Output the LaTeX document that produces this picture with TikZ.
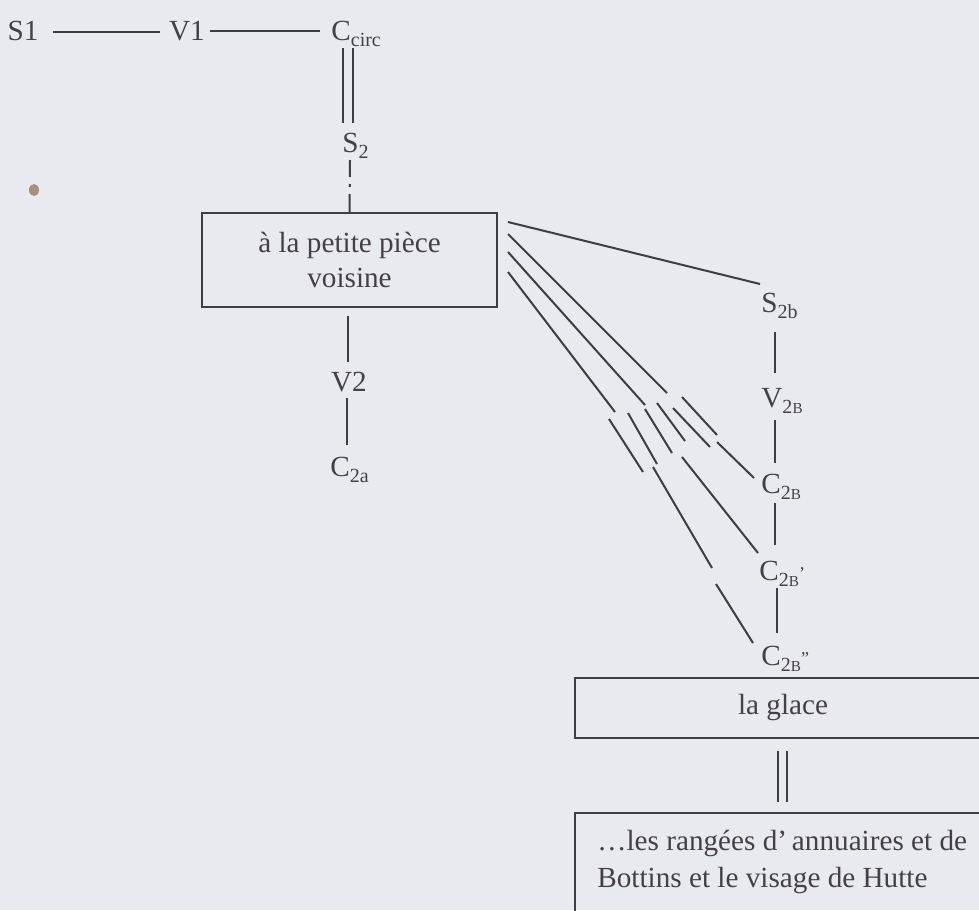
\documentclass[tikz,border=0pt]{standalone}
\usepackage{fontspec}
\setmainfont{Liberation Serif}
\definecolor{bgc}{HTML}{E8EAEF}
\definecolor{inkc}{HTML}{403C44}
\definecolor{txtc}{HTML}{444046}
\definecolor{smudgec}{HTML}{A88E7E}
\newcommand{\mysub}[1]{\raisebox{-0.22em}{\fontsize{10}{10}\selectfont #1}}
\newcommand{\smB}{{\fontsize{7.6}{8}\selectfont B}}
\newcommand{\myprime}[1]{\raisebox{0.02em}{\fontsize{9}{9}\selectfont #1}}
\begin{document}
\begin{tikzpicture}[x=0.5pt,y=-0.5pt,
  lbl/.style={inner sep=0pt,text=txtc,font=\fontsize{14.6}{17.5}\selectfont},
  ln/.style={draw=inkc,line width=1pt},
  boxn/.style={draw=inkc,line width=1pt,inner sep=0pt,text=txtc,
    font=\fontsize{14.6}{17.5}\selectfont,align=center}]
\fill[bgc] (0,0) rectangle (979,910);
\path[use as bounding box] (0,0) rectangle (979,910);
\clip (0,0) rectangle (979,910);

% scan smudge
\fill[smudgec] (34,190) ellipse (5 and 6);

% top row
\node[lbl,anchor=base] (s1) at (23,40) {S1};
\node[lbl,anchor=base] (v1) at (187,40) {V1};
\node[lbl,anchor=base west] (cc) at (331,40) {C\mysub{circ}};
\draw[ln] ([xshift=7pt,yshift=4pt]s1.base east) -- ([xshift=-4.5pt,yshift=4pt]v1.base west);
\draw[ln] ([xshift=2.5pt,yshift=4.5pt]v1.base east) -- ([xshift=-5.5pt,yshift=4.5pt]cc.base west);

% S2 column
\node[lbl,anchor=base west] (s2) at (342,152) {S\mysub{2}};
\draw[ln] ([xshift=6pt,yshift=-4pt]cc.base west) -- ([xshift=0.5pt,yshift=14.5pt]s2.base west);
\draw[ln] ([xshift=11pt,yshift=-4pt]cc.base west) -- ([xshift=5.5pt,yshift=14.5pt]s2.base west);

\node[boxn,minimum width=147.5pt,minimum height=47pt] (box) at (349.5,260)
  {à la petite pièce\\voisine};
\draw[ln,dash pattern=on 8.5pt off 3.5pt on 1.5pt off 3.5pt on 10pt]
  ([xshift=4pt,yshift=-4pt]s2.base west) -- (box.north);

\node[lbl,anchor=base] (v2) at (349,391) {V2};
\node[lbl,anchor=base west] (c2a) at (330,476) {C\mysub{2a}};
\draw[ln] ([xshift=-0.75pt,yshift=-4pt]box.south) -- ([xshift=-0.5pt,yshift=4.5pt]v2.north);
\draw[ln] ([xshift=-1pt,yshift=-3.5pt]v2.base) -- ([xshift=8.5pt,yshift=15.5pt]c2a.base west);

% right column
\node[lbl,anchor=base west] (s2b) at (761,312) {S\mysub{2b}};
\node[lbl,anchor=base west] (v2b) at (761,407) {V\mysub{2\smB}};
\node[lbl,anchor=base west] (c2b) at (761,493) {C\mysub{2\smB}};
\node[lbl,anchor=base west] (c2bp) at (759,580) {C\mysub{2\smB}\myprime{'}};
\node[lbl,anchor=base west] (c2bpp) at (761,665) {C\mysub{2\smB}\myprime{''}};

\draw[ln] ([xshift=7pt,yshift=-10pt]s2b.base west) -- ([xshift=7pt,yshift=17pt]v2b.base west);
\draw[ln] ([xshift=7pt,yshift=-6.5pt]v2b.base west) -- ([xshift=7pt,yshift=15pt]c2b.base west);
\draw[ln] ([xshift=7pt,yshift=-5pt]c2b.base west) -- ([xshift=8pt,yshift=17.5pt]c2bp.base west);
\draw[ln] ([xshift=9pt,yshift=-4pt]c2bp.base west) -- ([xshift=8pt,yshift=16pt]c2bpp.base west);

% fan of lines from the box
\draw[ln] ([xshift=5pt,yshift=-5pt]box.north east) -- ([xshift=-0.5pt,yshift=14pt]s2b.base west);

\coordinate (f1a) at (667,393);
\coordinate (f2a) at (645,405);
\coordinate (f3a) at (615,412);
\draw[ln] ([xshift=5pt,yshift=-11pt]box.north east) -- (f1a);
\draw[ln] ([xshift=5pt,yshift=-20pt]box.north east) -- (f2a);
\draw[ln] ([xshift=5pt,yshift=-30pt]box.north east) -- (f3a);

\coordinate (m1a) at (682,397); \coordinate (m1b) at (717,435);
\coordinate (m2a) at (673,408); \coordinate (m2b) at (710,447);
\coordinate (m3a) at (657,403); \coordinate (m3b) at (685,441);
\coordinate (m4a) at (645,409); \coordinate (m4b) at (672,453);
\coordinate (m5a) at (628,413); \coordinate (m5b) at (657,464);
\coordinate (m6a) at (609,419); \coordinate (m6b) at (643,472);
\draw[ln] (m1a) -- (m1b);
\draw[ln] (m2a) -- (m2b);
\draw[ln] (m3a) -- (m3b);
\draw[ln] (m4a) -- (m4b);
\draw[ln] (m5a) -- (m5b);
\draw[ln] (m6a) -- (m6b);

\coordinate (g1) at (717,442);
\coordinate (g2) at (682,457);
\coordinate (g3) at (653,467);
\coordinate (g3m) at (712,568);
\coordinate (g3n) at (716,584);
\draw[ln] (g1) -- ([xshift=-3.5pt,yshift=7.5pt]c2b.base west);
\draw[ln] (g2) -- ([xshift=-0.5pt,yshift=13.5pt]c2bp.base west);
\draw[ln] (g3) -- (g3m);
\draw[ln] (g3n) -- ([xshift=-4pt,yshift=11pt]c2bpp.base west);

% bottom boxes
\node[boxn,minimum width=208pt,minimum height=30pt] (glace) at (783,708) {la glace};
\node[boxn,minimum width=213pt,minimum height=74pt] (rows) at (788,887) {};
\node[lbl,anchor=north west,align=left,font=\fontsize{14.6}{18.5}\selectfont] (rowstxt) at (597,830)
  {…les rangées d'\,annuaires et de\\Bottins et le visage de Hutte};
\draw[ln] ([xshift=-2.5pt,yshift=-6pt]glace.south) -- ([xshift=-5pt,yshift=5pt]rows.north);
\draw[ln] ([xshift=2pt,yshift=-6pt]glace.south) -- ([xshift=-0.5pt,yshift=5pt]rows.north);
\end{tikzpicture}
\end{document}
